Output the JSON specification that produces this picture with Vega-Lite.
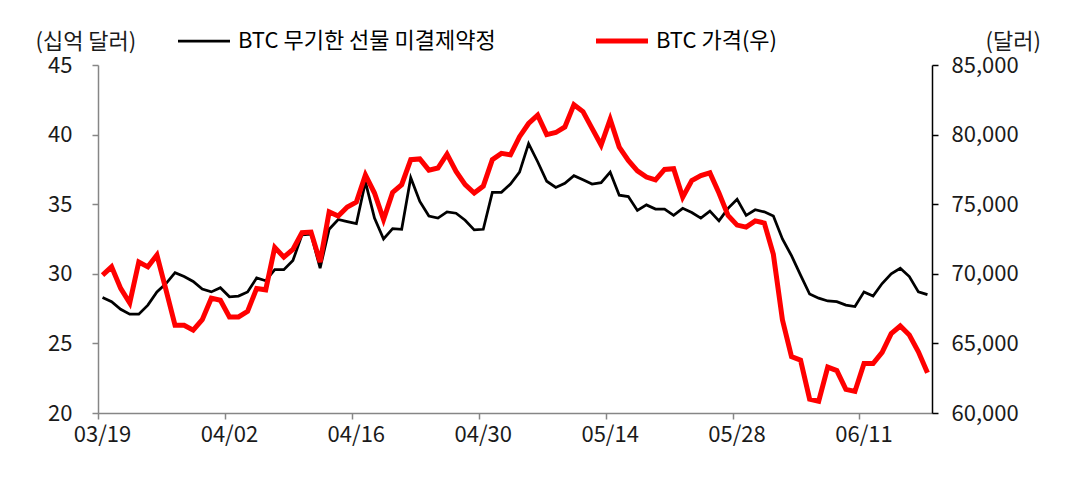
{
  "$schema": "https://vega.github.io/schema/vega-lite/v6.json",
  "width": 834,
  "height": 348,
  "autosize": {"type": "none"},
  "padding": {"left": 98, "top": 65, "right": 140, "bottom": 83},
  "background": "white",
  "config": {
    "view": {"stroke": null},
    "font": "Noto Sans CJK KR",
    "axis": {
      "labelFont": "Noto Sans CJK KR",
      "labelFontSize": 22,
      "labelColor": "#1a1a1a",
      "titleFont": "Noto Sans CJK KR",
      "titleFontSize": 22,
      "titleFontWeight": "normal",
      "titleColor": "#1a1a1a",
      "grid": false,
      "tickSize": 6,
      "domainColor": "#868686",
      "tickColor": "#868686",
      "domainWidth": 1.5,
      "tickWidth": 1.5
    }
  },
  "data": {
    "values": [
      {"date": "2024-03-19T12:00", "oi": 28.3, "price": 69900},
      {"date": "2024-03-20T12:00", "oi": 28.0, "price": 70500},
      {"date": "2024-03-21T12:00", "oi": 27.45, "price": 68950},
      {"date": "2024-03-22T12:00", "oi": 27.1, "price": 67900},
      {"date": "2024-03-23T12:00", "oi": 27.1, "price": 70850},
      {"date": "2024-03-24T12:00", "oi": 27.75, "price": 70500},
      {"date": "2024-03-25T12:00", "oi": 28.7, "price": 71350},
      {"date": "2024-03-26T12:00", "oi": 29.3, "price": 68850},
      {"date": "2024-03-27T12:00", "oi": 30.08, "price": 66300},
      {"date": "2024-03-28T12:00", "oi": 29.8, "price": 66300},
      {"date": "2024-03-29T12:00", "oi": 29.45, "price": 65950},
      {"date": "2024-03-30T12:00", "oi": 28.9, "price": 66700},
      {"date": "2024-03-31T12:00", "oi": 28.7, "price": 68250},
      {"date": "2024-04-01T12:00", "oi": 29.0, "price": 68100},
      {"date": "2024-04-02T12:00", "oi": 28.35, "price": 66900},
      {"date": "2024-04-03T12:00", "oi": 28.4, "price": 66900},
      {"date": "2024-04-04T12:00", "oi": 28.7, "price": 67300},
      {"date": "2024-04-05T12:00", "oi": 29.7, "price": 68950},
      {"date": "2024-04-06T12:00", "oi": 29.5, "price": 68850},
      {"date": "2024-04-07T12:00", "oi": 30.3, "price": 71900},
      {"date": "2024-04-08T12:00", "oi": 30.3, "price": 71200},
      {"date": "2024-04-09T12:00", "oi": 30.95, "price": 71750},
      {"date": "2024-04-10T12:00", "oi": 32.8, "price": 72950},
      {"date": "2024-04-11T12:00", "oi": 32.85, "price": 73000},
      {"date": "2024-04-12T12:00", "oi": 30.4, "price": 70850},
      {"date": "2024-04-13T12:00", "oi": 33.2, "price": 74450},
      {"date": "2024-04-14T12:00", "oi": 33.9, "price": 74150},
      {"date": "2024-04-15T12:00", "oi": 33.75, "price": 74800},
      {"date": "2024-04-16T12:00", "oi": 33.6, "price": 75150},
      {"date": "2024-04-17T12:00", "oi": 36.6, "price": 77100},
      {"date": "2024-04-18T12:00", "oi": 34.0, "price": 75800},
      {"date": "2024-04-19T12:00", "oi": 32.5, "price": 73900},
      {"date": "2024-04-20T12:00", "oi": 33.25, "price": 75850},
      {"date": "2024-04-21T12:00", "oi": 33.2, "price": 76400},
      {"date": "2024-04-22T12:00", "oi": 36.9, "price": 78200},
      {"date": "2024-04-23T12:00", "oi": 35.2, "price": 78250},
      {"date": "2024-04-24T12:00", "oi": 34.15, "price": 77450},
      {"date": "2024-04-25T12:00", "oi": 34.0, "price": 77600},
      {"date": "2024-04-26T12:00", "oi": 34.45, "price": 78600},
      {"date": "2024-04-27T12:00", "oi": 34.35, "price": 77350},
      {"date": "2024-04-28T12:00", "oi": 33.85, "price": 76400},
      {"date": "2024-04-29T12:00", "oi": 33.15, "price": 75800},
      {"date": "2024-04-30T12:00", "oi": 33.2, "price": 76300},
      {"date": "2024-05-01T12:00", "oi": 35.85, "price": 78200},
      {"date": "2024-05-02T12:00", "oi": 35.85, "price": 78650},
      {"date": "2024-05-03T12:00", "oi": 36.45, "price": 78550},
      {"date": "2024-05-04T12:00", "oi": 37.3, "price": 79850},
      {"date": "2024-05-05T12:00", "oi": 39.35, "price": 80800},
      {"date": "2024-05-06T12:00", "oi": 38.05, "price": 81400},
      {"date": "2024-05-07T12:00", "oi": 36.65, "price": 80000},
      {"date": "2024-05-08T12:00", "oi": 36.2, "price": 80150},
      {"date": "2024-05-09T12:00", "oi": 36.5, "price": 80550},
      {"date": "2024-05-10T12:00", "oi": 37.05, "price": 82150},
      {"date": "2024-05-11T12:00", "oi": 36.75, "price": 81650},
      {"date": "2024-05-12T12:00", "oi": 36.45, "price": 80450},
      {"date": "2024-05-13T12:00", "oi": 36.55, "price": 79250},
      {"date": "2024-05-14T12:00", "oi": 37.3, "price": 81100},
      {"date": "2024-05-15T12:00", "oi": 35.65, "price": 79100},
      {"date": "2024-05-16T12:00", "oi": 35.55, "price": 78150},
      {"date": "2024-05-17T12:00", "oi": 34.55, "price": 77400},
      {"date": "2024-05-18T12:00", "oi": 34.95, "price": 76950},
      {"date": "2024-05-19T12:00", "oi": 34.65, "price": 76750},
      {"date": "2024-05-20T12:00", "oi": 34.65, "price": 77500},
      {"date": "2024-05-21T12:00", "oi": 34.2, "price": 77550},
      {"date": "2024-05-22T12:00", "oi": 34.7, "price": 75500},
      {"date": "2024-05-23T12:00", "oi": 34.4, "price": 76700},
      {"date": "2024-05-24T12:00", "oi": 34.0, "price": 77050},
      {"date": "2024-05-25T12:00", "oi": 34.5, "price": 77250},
      {"date": "2024-05-26T12:00", "oi": 33.8, "price": 75800},
      {"date": "2024-05-27T12:00", "oi": 34.7, "price": 74200},
      {"date": "2024-05-28T12:00", "oi": 35.35, "price": 73500},
      {"date": "2024-05-29T12:00", "oi": 34.2, "price": 73350},
      {"date": "2024-05-30T12:00", "oi": 34.6, "price": 73800},
      {"date": "2024-05-31T12:00", "oi": 34.45, "price": 73650},
      {"date": "2024-06-01T12:00", "oi": 34.15, "price": 71400},
      {"date": "2024-06-02T12:00", "oi": 32.5, "price": 66700},
      {"date": "2024-06-03T12:00", "oi": 31.3, "price": 64050},
      {"date": "2024-06-04T12:00", "oi": 29.9, "price": 63800},
      {"date": "2024-06-05T12:00", "oi": 28.55, "price": 61000},
      {"date": "2024-06-06T12:00", "oi": 28.25, "price": 60850},
      {"date": "2024-06-07T12:00", "oi": 28.05, "price": 63300},
      {"date": "2024-06-08T12:00", "oi": 28.0, "price": 63050},
      {"date": "2024-06-09T12:00", "oi": 27.75, "price": 61700},
      {"date": "2024-06-10T12:00", "oi": 27.65, "price": 61550},
      {"date": "2024-06-11T12:00", "oi": 28.7, "price": 63550},
      {"date": "2024-06-12T12:00", "oi": 28.4, "price": 63550},
      {"date": "2024-06-13T12:00", "oi": 29.3, "price": 64350},
      {"date": "2024-06-14T12:00", "oi": 30.0, "price": 65700},
      {"date": "2024-06-15T12:00", "oi": 30.4, "price": 66250},
      {"date": "2024-06-16T12:00", "oi": 29.8, "price": 65600},
      {"date": "2024-06-17T12:00", "oi": 28.7, "price": 64400},
      {"date": "2024-06-18T12:00", "oi": 28.5, "price": 62900}
    ]
  },
  "encoding": {
    "x": {
      "field": "date",
      "type": "temporal",
      "scale": {
        "domain": [
          {"year": 2024, "month": 3, "date": 19},
          {"year": 2024, "month": 6, "date": 19}
        ]
      },
      "axis": {
        "title": null,
        "format": "%m/%d",
        "values": [
          {"year": 2024, "month": 3, "date": 19},
          {"year": 2024, "month": 4, "date": 2},
          {"year": 2024, "month": 4, "date": 16},
          {"year": 2024, "month": 4, "date": 30},
          {"year": 2024, "month": 5, "date": 14},
          {"year": 2024, "month": 5, "date": 28},
          {"year": 2024, "month": 6, "date": 11}
        ],
        "labelOffset": 4,
        "labelPadding": 5,
        "labelFlush": false,
        "labelOverlap": false
      }
    }
  },
  "layer": [
    {
      "mark": {"type": "line", "strokeWidth": 2.75},
      "encoding": {
        "y": {
          "field": "oi",
          "type": "quantitative",
          "scale": {"domain": [20, 45], "nice": false, "zero": false},
          "axis": {
            "orient": "left",
            "values": [20, 25, 30, 35, 40, 45],
            "labelPadding": 20,
            "title": "(십억 달러)",
            "titleAngle": 0,
            "titleAlign": "left",
            "titleBaseline": "middle",
            "titleX": -63,
            "titleY": -24
          }
        },
        "color": {
          "datum": "BTC 무기한 선물 미결제약정",
          "scale": {
            "domain": ["BTC 무기한 선물 미결제약정", "BTC 가격(우)"],
            "range": ["#000000", "#ff0000"]
          },
          "legend": {
            "orient": "none",
            "legendX": 80,
            "legendY": -35,
            "direction": "horizontal",
            "title": null,
            "padding": 0,
            "symbolType": "stroke",
            "symbolSize": 2704,
            "symbolOffset": 15,
            "labelFont": "Noto Sans CJK KR",
            "labelFontSize": 22,
            "labelColor": "#000000",
            "labelOffset": 23,
            "labelLimit": 500,
            "columnPadding": 90,
            "encode": {
              "symbols": {
                "update": {
                  "strokeWidth": {"signal": "datum.value === 'BTC 가격(우)' ? 5 : 2.75"}
                }
              }
            }
          }
        }
      }
    },
    {
      "mark": {"type": "line", "strokeWidth": 5},
      "encoding": {
        "y": {
          "field": "price",
          "type": "quantitative",
          "scale": {"domain": [60000, 85000], "nice": false, "zero": false},
          "axis": {
            "orient": "right",
            "values": [60000, 65000, 70000, 75000, 80000, 85000],
            "format": ",.0f",
            "labelPadding": 13,
            "domainColor": "#000000",
            "tickColor": "#000000",
            "title": "(달러)",
            "titleAngle": 0,
            "titleAlign": "left",
            "titleBaseline": "middle",
            "titleX": 53,
            "titleY": -24
          }
        },
        "color": {"datum": "BTC 가격(우)"}
      }
    }
  ],
  "resolve": {"scale": {"y": "independent"}}
}
